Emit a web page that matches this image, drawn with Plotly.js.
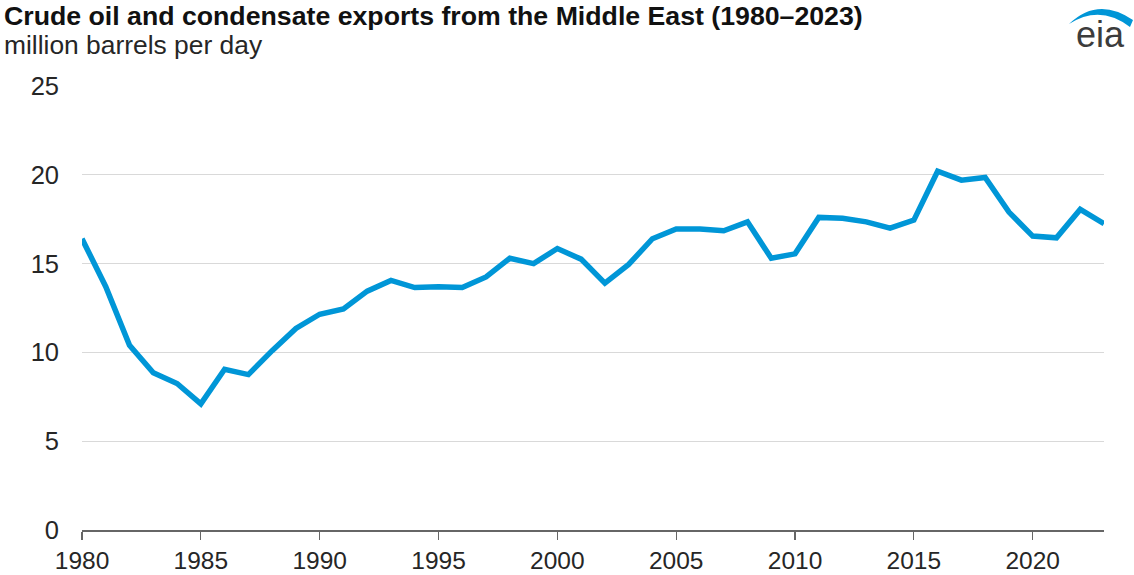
<!DOCTYPE html>
<html>
<head>
<meta charset="utf-8">
<script src="https://cdn.plot.ly/plotly-3.0.1.min.js"></script>
<style>
  html, body { margin: 0; padding: 0; background: #fff; }
  #chart { width: 1134px; height: 575px; }
</style>
</head>
<body>
<div id="chart"></div>
<script>
// Data
const years = [1980, 1981, 1982, 1983, 1984, 1985, 1986, 1987, 1988, 1989,
               1990, 1991, 1992, 1993, 1994, 1995, 1996, 1997, 1998, 1999,
               2000, 2001, 2002, 2003, 2004, 2005, 2006, 2007, 2008, 2009,
               2010, 2011, 2012, 2013, 2014, 2015, 2016, 2017, 2018, 2019,
               2020, 2021, 2022, 2023];
const exportsMbd = [16.4, 13.7, 10.4, 8.85, 8.25, 7.1, 9.05, 8.75, 10.1, 11.35,
                    12.15, 12.45, 13.45, 14.05, 13.65, 13.7, 13.65, 14.25, 15.3, 15.0,
                    15.85, 15.25, 13.9, 14.95, 16.4, 16.95, 16.95, 16.85, 17.35, 15.3,
                    15.55, 17.6, 17.55, 17.35, 17.0, 17.45, 20.2, 19.7, 19.85, 17.9,
                    16.55, 16.45, 18.05, 17.25];
const xTickVals = [1980, 1985, 1990, 1995, 2000, 2005, 2010, 2015, 2020];
const yTickVals = [0, 5, 10, 15, 20, 25];
const titleText = "Crude oil and condensate exports from the Middle East (1980–2023)";
const subtitleText = "million barrels per day";

const FONT = "Arial, 'Liberation Sans', sans-serif";
const W = 1134, H = 575;
const M = {l: 82, r: 30, t: 86, b: 45};
const pw = W - M.l - M.r, ph = H - M.t - M.b;
const px = x => (x - M.l) / pw;
const py = y => (H - M.b - y) / ph;

const trace = {
  x: years,
  y: exportsMbd,
  type: 'scatter',
  mode: 'lines',
  line: {color: '#0096d7', width: 5.5, shape: 'linear'},
  hoverinfo: 'x+y'
};

const layout = {
  width: W, height: H,
  margin: M,
  paper_bgcolor: '#ffffff',
  plot_bgcolor: '#ffffff',
  showlegend: false,
  font: {family: FONT, color: '#262626', size: 25},
  xaxis: {
    range: [1980, 2023],
    tickvals: xTickVals,
    ticktext: xTickVals.map(String),
    ticks: 'outside', ticklen: 8, tickwidth: 1.2, tickcolor: '#666666',
    showline: true, linecolor: '#666666', linewidth: 1.5,
    showgrid: false, zeroline: false,
    tickfont: {family: FONT, size: 24.5, color: '#262626'},
    fixedrange: true
  },
  yaxis: {
    range: [0, 25],
    tickvals: yTickVals,
    ticks: '', showline: false, zeroline: false,
    showgrid: true, gridcolor: '#d9d9d9', gridwidth: 1.2,
    tickfont: {family: FONT, size: 25.5, color: '#262626'},
    ticklabelstandoff: 22,
    fixedrange: true
  },
  annotations: [
    {
      text: '<b>' + titleText + '</b>',
      xref: 'paper', yref: 'paper',
      x: px(2), y: py(16), xanchor: 'left', yanchor: 'middle',
      showarrow: false,
      font: {family: FONT, size: 26.7, color: '#111111'}
    },
    {
      text: subtitleText,
      xref: 'paper', yref: 'paper',
      x: px(2), y: py(45), xanchor: 'left', yanchor: 'middle',
      showarrow: false,
      font: {family: FONT, size: 26.4, color: '#262626'}
    },
    {
      text: 'eia',
      xref: 'paper', yref: 'paper',
      x: px(1100), y: py(35), xanchor: 'center', yanchor: 'middle',
      showarrow: false,
      font: {family: FONT, size: 36, color: '#3c3c3c'}
    }
  ],
  shapes: [
    {
      type: 'path', xref: 'paper', yref: 'paper',
      path: 'M ' + px(1069) + ',' + py(24) +
            ' Q ' + px(1098) + ',' + py(-4) + ' ' + px(1133) + ',' + py(20) +
            ' L ' + px(1130) + ',' + py(27) +
            ' Q ' + px(1100) + ',' + py(4) + ' ' + px(1069) + ',' + py(24) + ' Z',
      fillcolor: '#0096d7', line: {width: 0}
    }
  ]
};

Plotly.newPlot('chart', [trace], layout, {displayModeBar: false, staticPlot: true});
</script>
</body>
</html>
